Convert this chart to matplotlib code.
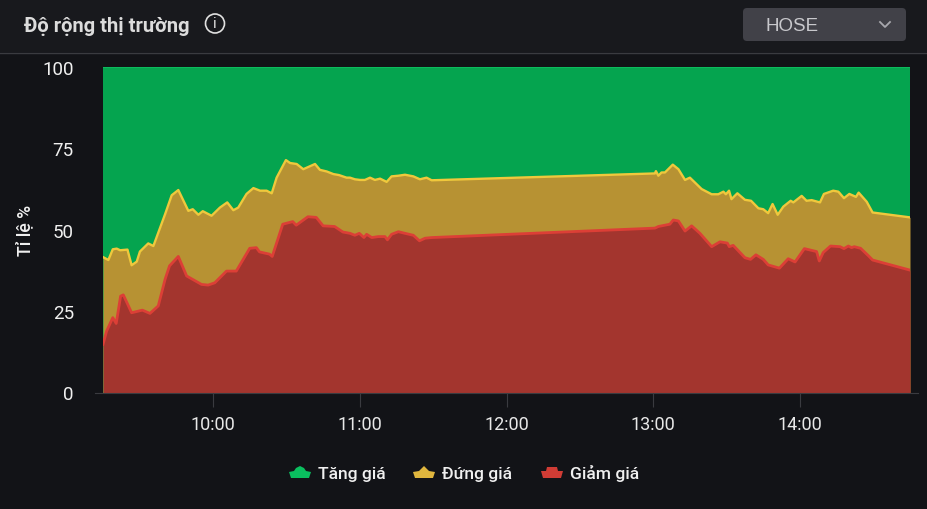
import matplotlib
matplotlib.use("Agg")
from matplotlib import pyplot as plt
from matplotlib.patches import Circle, FancyBboxPatch, Polygon

plt.rcParams['font.family'] = ['Roboto', 'DejaVu Sans']

# minutes after 09:15
yellow_t = [0, 2.2, 4, 5.6, 7, 10, 11.7, 13.8, 15.1, 18.5, 20.6, 25.4, 28.1, 30.8, 34.9, 36.7, 39, 40.8,
            44.4, 47.8, 50.8, 53.3, 55.3, 58.7, 61.5, 64.2, 66.9, 69, 71, 74.8, 76.5, 79.2, 81.9, 86.7,
            88.7, 91.5, 94.2, 96.5, 99.6, 101, 103, 105.1, 107.1, 109.2, 111.2, 113.3, 116, 118, 120.8,
            123.5, 126.9, 129.6, 132.3, 134.4, 225.7, 226.1, 227.1, 228.4, 229.8,
            233, 235.3, 238, 240, 244.8, 248.9, 251.6, 253.7, 254.7, 256, 257, 259.4, 262.5, 265, 268,
            270, 272, 273.8, 275.9, 278.2, 281.2, 282.3, 285.7, 287.7, 289.8, 293.2, 294.8, 298.6,
            300.7, 303, 305.2, 307.9, 309, 312.3, 314.7, 330]
yellow_v = [41.6, 40.7, 44, 44.2, 43.7, 43.9, 39.1, 40.2, 43.3, 45.8, 45, 54.8, 60.6, 62.2, 55.8, 56.3, 54.6, 55.7,
            54.3, 56.8, 58.4, 56, 56.8, 61, 62.8, 62, 62, 61.2, 66, 71.4, 70.5, 70.2, 68.6, 70.2,
            68.4, 67.9, 67.1, 66.8, 66, 66, 65.5, 65.3, 65.3, 66, 65.3, 65.7, 64.7, 66.4, 66.6,
            66.9, 66.4, 65.5, 66, 65.2, 67.3, 68, 66.6, 67.6, 67.6,
            70, 68.6, 65.3, 66, 62.5, 60.9, 60.9, 61.7, 60.9, 62, 59.4, 61.2, 59.2, 58.9, 56.6,
            56.3, 55.1, 57.9, 54.6, 57.1, 58.9, 58.4, 60.4, 58.9, 59.1, 58.4, 61, 62,
            61.7, 59.7, 61, 60.1, 61.4, 58.6, 55.3, 53.8]

red_t = [0, 1.5, 4, 5.4, 7.2, 8.3, 11.7, 16.1, 19.2, 22.6, 25.4, 27.2, 30.8, 34.2, 40.3, 43, 45.7, 50.5,
         54.5, 60, 62.7, 64, 68.1, 69.2, 73.5, 77.6, 79, 83.8, 87.2, 90, 94.7, 98.1, 101, 103, 104.8,
         106.7, 107.8, 109.9, 112.6, 115.3, 116.3, 118, 120.8, 123.5, 126.9, 129.4, 131.7, 134.4,
         225.7, 227.1, 231.8, 233.2, 235.3, 238, 240.7, 244.1,
         248.9, 252.3, 255.3, 256.1, 257.7, 262.5, 264.8, 267, 270, 272, 276.6, 280.2, 283, 286.8,
         291.8, 292.9, 294.5, 297.5, 301.4, 303, 304.8, 306.1, 307.2, 309.8, 313, 314.7, 330]
red_v = [14.8, 18.9, 23, 21.2, 29.6, 30, 24.5, 25.3, 24.3, 26.6, 34.8, 38.9, 41.8, 35.8, 33.2, 33, 33.7, 37.3,
         37.3, 44.3, 44.5, 43.2, 42.5, 41.8, 51.7, 52.5, 51.4, 54, 53.8, 51.2, 51, 49.3, 48.9, 48.3, 48.9,
         47.6, 48.6, 47.6, 47.9, 47.9, 46.9, 48.6, 49.4, 48.9, 48.3, 46.6, 47.4, 47.6,
         50.5, 51, 51.7, 53, 52.7, 49.6, 51.2, 48.9,
         44.8, 46.3, 45.9, 44.8, 45.2, 41.4, 40.9, 42.3, 40.9, 39.2, 38.2, 41.1, 40.1, 44.2,
         43.3, 40.4, 43, 45, 44.8, 44.2, 45, 44.5, 44.8, 44.3, 42, 40.7, 37.6]

y_ticks = [0, 25, 50, 75, 100]
x_ticks = [45, 105, 165, 225, 285]
x_labels = ['10:00', '11:00', '12:00', '13:00', '14:00']
legend_names = ['Tăng giá', 'Đứng giá', 'Giảm giá']

W, H = 927, 510
fig = plt.figure(figsize=(W / 100, H / 100), dpi=100, facecolor='#121317')


def fx(px):
    return px / W


def fy(py):
    return 1 - py / H


ax = fig.add_axes([fx(103), fy(393.5), (910 - 103) / W, (393.5 - 68) / H])
ax.set_facecolor('#121317')
ax.fill_between([0, 330], [100, 100], color='#05A44F', lw=0)
ax.fill_between(yellow_t, yellow_v, color='#B79233', lw=0)
ax.fill_between(red_t, red_v, color='#A3352E', lw=0)
ax.plot([0, 330], [100, 100], color='#0DBB5E', lw=1.4)
ax.plot(yellow_t, yellow_v, color='#F0C83C', lw=1.7)
ax.plot(red_t, red_v, color='#DC3F36', lw=2)
ax.set_xlim(0, 330)
ax.set_ylim(0, 100)
ax.set_xticks(x_ticks)
ax.set_xticklabels(x_labels)
ax.set_yticks(y_ticks)
ax.tick_params(axis='x', colors='#E8E8E8', labelsize=13, length=10, color='#3A3B40', pad=6)
ax.tick_params(axis='y', colors='#F0F0F0', labelsize=13.5, length=0, pad=21)
for s in ['top', 'right', 'left']:
    ax.spines[s].set_visible(False)
ax.spines['bottom'].set_color('#3A3B40')
ax.spines['bottom'].set_bounds(-3.3, 333.3)
ax.set_ylabel('Tỉ lệ %', color='#F0F0F0', fontsize=12.8, fontweight='medium')
ax.yaxis.set_label_coords((34 - 103) / (910 - 103), 0.5)

# header
fig.add_artist(plt.Rectangle((0, fy(53)), 1, 53 / H, transform=fig.transFigure, color='#18191D', lw=0))
fig.add_artist(plt.Line2D([0, 1], [fy(53.5)] * 2, color='#3A3B40', lw=1))
fig.text(fx(23.5), fy(27), 'Độ rộng thị trường', color='#DCDCDC', fontsize=14.5, fontweight='semibold', va='center')

over = fig.add_axes([0, 0, 1, 1], zorder=5)
over.set_xlim(0, W)
over.set_ylim(H, 0)
over.axis('off')
over.patch.set_alpha(0)
over.add_patch(Circle((215, 24.5), 9.5, fill=False, ec='#E0E0E0', lw=1.2))
over.text(215, 24.5, 'i', color='#E0E0E0', fontsize=11, ha='center', va='center')
over.add_patch(FancyBboxPatch((743, 9), 163, 33, boxstyle='round,pad=0,rounding_size=4', fc='#414148', ec='none'))
over.text(766, 26.5, 'HOSE', color='#C8C8CC', fontsize=13.5, va='center', family='Liberation Sans')
over.plot([880, 885, 890], [23, 28, 23], color='#A8A8AE', lw=1.3)

# legend symbols, offsets from left end of each symbol
legend_colors = ['#0ABF5F', '#E0B63E', '#D03C35']
legend_shapes = [
    [(0, 6), (5, 5), (7, 2), (11, 0), (15, 2), (17, 5), (22, 6), (20, 12), (2, 12)],
    [(0, 6), (6, 5), (11, 0), (16, 5), (22, 6), (20, 12), (2, 12)],
    [(0, 5), (5, 5), (6, 1), (16, 1), (17, 5), (22, 5), (20, 12), (2, 12)],
]
legend_x = [289, 413, 541]
text_x = [318, 442, 570]
for name, col, shape, lx, tx in zip(legend_names, legend_colors, legend_shapes, legend_x, text_x):
    over.add_patch(Polygon([(lx + a, 467 + b) for a, b in shape], fc=col, ec='none'))
    over.text(tx, 479, name, color='#F0F0F0', fontsize=12.6, fontweight='medium', va='baseline')

fig.savefig('out.png', dpi=100, facecolor=fig.get_facecolor())
